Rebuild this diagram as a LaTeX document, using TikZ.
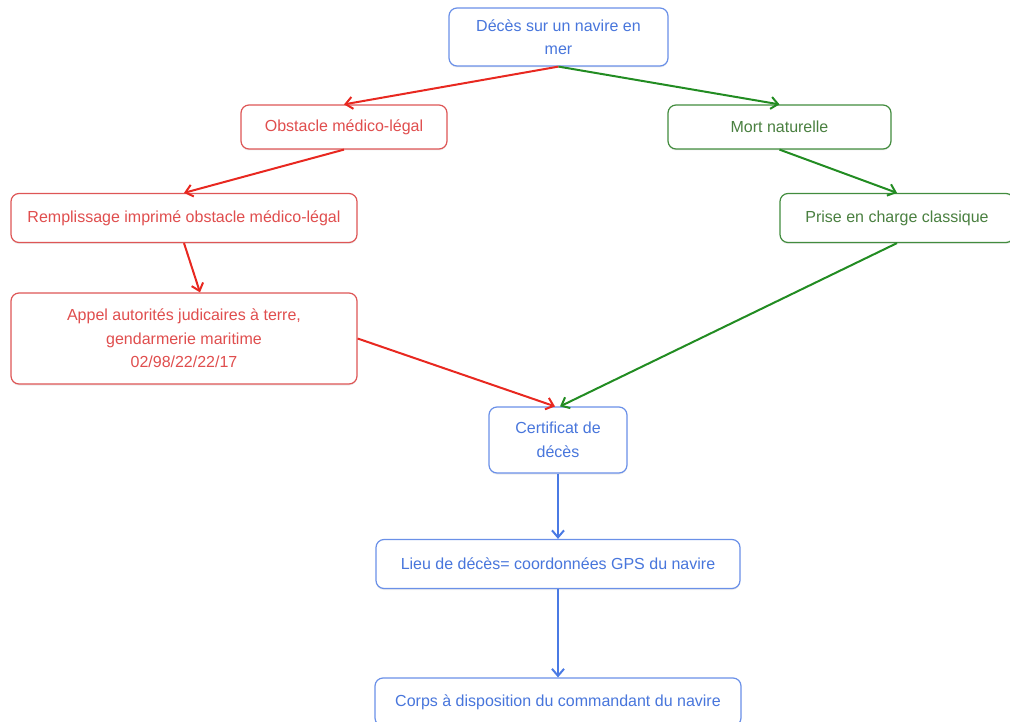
\documentclass[tikz,border=0pt]{standalone}
\usepackage{fontspec}
\setmainfont{Liberation Sans}
\usetikzlibrary{arrows.meta, calc, shadows}

\definecolor{redline}{RGB}{232,40,32}
\definecolor{redframe}{RGB}{222,86,86}
\definecolor{redtext}{RGB}{224,78,78}
\definecolor{greenline}{RGB}{34,140,34}
\definecolor{greenframe}{RGB}{66,140,62}
\definecolor{greentext}{RGB}{74,128,64}
\definecolor{blueline}{RGB}{74,122,228}
\definecolor{blueframe}{RGB}{106,144,232}
\definecolor{bluetext}{RGB}{72,118,220}

\begin{document}
\begin{tikzpicture} [x=1pt, y=-1pt,
	box/.style={rectangle, rounded corners=8pt, line width=1.2pt, fill=white,
		inner sep=0pt, align=center, font=\fontsize{16}{23.5}\selectfont,
		drop shadow={opacity=0.15, shadow xshift=0pt, shadow yshift=-1.5pt}},
	redbox/.style={box, draw=redframe, text=redtext},
	greenbox/.style={box, draw=greenframe, text=greentext},
	bluebox/.style={box, draw=blueframe, text=bluetext},
	link/.style={line width=2pt, -{Straight Barb[length=7pt, width=12pt, line width=2pt]}},
	redlink/.style={link, draw=redline},
	greenlink/.style={link, draw=greenline},
	bluelink/.style={link, draw=blueline}]
	
	\useasboundingbox (0,0) rectangle (1010,722);
	\clip (0,0) rectangle (1010,722);
	
	% boxes
	\node[bluebox, minimum width=219pt, minimum height=58pt] (deces) at (558.5,37) {Décès sur un navire en\\mer};
	\node[redbox, minimum width=206pt, minimum height=44pt] (obstacle) at (344,127) {Obstacle médico-légal};
	\node[greenbox, minimum width=223pt, minimum height=44pt] (mort) at (779.5,127) {Mort naturelle};
	\node[redbox, minimum width=346pt, minimum height=49pt] (imprime) at (184,218) {Remplissage imprimé obstacle médico-légal};
	\node[greenbox, minimum width=234pt, minimum height=49pt] (prise) at (897,218) {Prise en charge classique};
	\node[redbox, minimum width=346pt, minimum height=91pt] (appel) at (184,338.5) {Appel autorités judicaires à terre,\\gendarmerie maritime\\02/98/22/22/17};
	\node[bluebox, minimum width=138pt, minimum height=66pt] (certificat) at (558,440) {Certificat de\\décès};
	\node[bluebox, minimum width=364pt, minimum height=49pt] (lieu) at (558,564) {Lieu de décès= coordonnées GPS du navire};
	\node[bluebox, minimum width=366pt, minimum height=48pt] (corps) at (558,702) {Corps à disposition du commandant du navire};
	
	% links
	\draw[redlink] (deces.south) -- (obstacle.north);
	\draw[greenlink] (deces.south) -- (mort.north);
	\draw[redlink] (obstacle.south) -- (imprime.north);
	\draw[greenlink] (mort.south) -- (prise.north);
	\draw[redlink] (imprime.south) -- ($(appel.north)+(16,0)$);
	\draw[redlink] (appel.east) -- ($(certificat.north)+(-3,0)$);
	\draw[greenlink] (prise.south) -- ($(certificat.north)+(2,0)$);
	\draw[bluelink] (certificat.south) -- (lieu.north);
	\draw[bluelink] (lieu.south) -- (corps.north);
	
\end{tikzpicture}
\end{document}
